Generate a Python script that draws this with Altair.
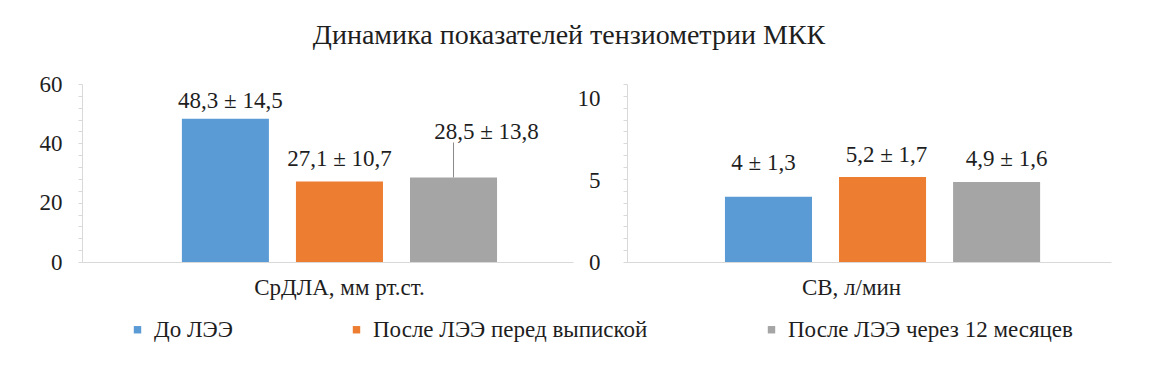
import altair as alt
import pandas as pd

# ---------------- data ----------------
title_text = "Динамика показателей тензиометрии МКК"
series = ["До ЛЭЭ", "После ЛЭЭ перед выпиской", "После ЛЭЭ через 12 месяцев"]
colors = ["#5b9bd5", "#ed7d31", "#a5a5a5"]

cat_left = "СрДЛА, мм рт.ст."
cdla_mean = [48.3, 27.1, 28.5]
cdla_sd = [14.5, 10.7, 13.8]
cdla_whisker = [None, None, 13.8]   # only the last bar shows an error bar

cat_right = "СВ, л/мин"
sv_mean = [4.0, 5.2, 4.9]
sv_sd = [1.3, 1.7, 1.6]
sv_whisker = [None, None, None]

left_major = [0, 20, 40, 60]
left_max = 60
right_major = [0, 5, 10]
right_max = 10.9

# ---------------- style ----------------
FONT = "Liberation Serif, Times New Roman, Tinos, Noto Serif, DejaVu Serif, serif"
TXT = "#1e1e1e"
AXIS_GREY = "#d9d9d9"
FS = 23


def fmt(v):
    return f"{v:g}".replace(".", ",")


color_scale = alt.Scale(domain=series, range=colors)


def panel(cat, means, sds, whisk, ymax, major, width, po, align, pi,
          lifts, dxs, lab_pad, cat_off, halo):
    df = pd.DataFrame({
        "cat": [cat] * len(series),
        "series": series,
        "mean": means,
        "label": [f"{fmt(m)} ± {fmt(s)}" for m, s in zip(means, sds)],
        "hi": [m + w if w is not None else None for m, w in zip(means, whisk)],
    })
    base = alt.Chart(df)
    yscale = alt.Scale(domain=[0, ymax], nice=False, zero=True)
    x = alt.X("cat:N",
              scale=alt.Scale(paddingInner=0, paddingOuter=po, align=align),
              axis=alt.Axis(title=None, ticks=False, labelAngle=0,
                            labelFont=FONT, labelFontSize=FS, labelColor=TXT,
                            labelPadding=14, labelOffset=cat_off,
                            domainColor=AXIS_GREY, domainWidth=1))
    xo = alt.XOffset("series:N",
                     scale=alt.Scale(domain=series, paddingInner=pi, paddingOuter=0))

    bars = base.mark_bar().encode(
        x=x, xOffset=xo,
        y=alt.Y("mean:Q", scale=yscale,
                axis=alt.Axis(values=major, title=None, grid=False, ticks=False,
                              orient="left",
                              labelFont=FONT, labelFontSize=FS, labelColor=TXT,
                              labelPadding=lab_pad, domainColor=AXIS_GREY)),
        color=alt.Color("series:N", scale=color_scale,
                        legend=alt.Legend(title=None, orient="none",
                                          direction="horizontal",
                                          legendX=44, legendY=234)),
    )
    minor_vals = [ymax * i / 15 for i in range(16)]
    minor = base.mark_bar(opacity=0).encode(
        x=x, xOffset=xo,
        y=alt.Y("mean:Q", scale=yscale,
                axis=alt.Axis(values=minor_vals, title=None, grid=False,
                              orient="left",
                              labels=False, ticks=True, tickSize=4,
                              tickColor=AXIS_GREY, domain=False)),
    )
    layers = [bars, minor]
    if any(w is not None for w in whisk):
        rule = base.transform_filter("isValid(datum.hi)").mark_rule(
            color="#8a8a8a", strokeWidth=1).encode(
            x=x, xOffset=xo,
            y=alt.Y("mean:Q", scale=yscale, axis=None),
            y2="hi:Q",
        )
        layers.append(rule)
    for i, s in enumerate(series):
        common = dict(font=FONT, fontSize=FS, baseline="middle",
                      align="center", dx=dxs[i], dy=-lifts[i])
        enc = dict(x=x, xOffset=xo,
                   y=alt.Y("mean:Q", scale=yscale, axis=None),
                   text="label:N")
        filt = alt.datum.series == s
        if halo:
            layers.append(base.transform_filter(filt).mark_text(
                color="white", stroke="white", strokeWidth=7, **common).encode(**enc))
        layers.append(base.transform_filter(filt).mark_text(
            color=TXT, **common).encode(**enc))
    return alt.layer(*layers).resolve_axis(y="independent").properties(
        width=width, height=178)


left = panel(cat_left, cdla_mean, cdla_sd, cdla_whisker, left_max, left_major,
             491, 0.279, 0.568, 0.237,
             lifts=[18, 23, 45], dxs=[5, 0, 33], lab_pad=20, cat_off=0, halo=True)
right = panel(cat_right, sv_mean, sv_sd, sv_whisker, right_max, right_major,
              484, 0.283, 0.56, 0.204,
              lifts=[34, 22, 23], dxs=[-5, 4, 10], lab_pad=27, cat_off=-28, halo=False)

chart = alt.hconcat(left, right, spacing=4).properties(
    title=alt.Title(title_text, font=FONT, fontSize=28, fontWeight="normal",
                    color=TXT, anchor="middle", dx=-6, offset=23),
    padding={"left": 31, "top": 14, "right": 5, "bottom": 5},
).configure_view(stroke=None).configure_legend(
    labelFont=FONT, labelFontSize=FS, labelColor=TXT, labelLimit=0,
    symbolType="square", symbolSize=55, symbolStrokeWidth=0,
    columnPadding=112, labelOffset=5, padding=0,
)

chart.save("out.html", embed_options={"renderer": "svg", "actions": False})
